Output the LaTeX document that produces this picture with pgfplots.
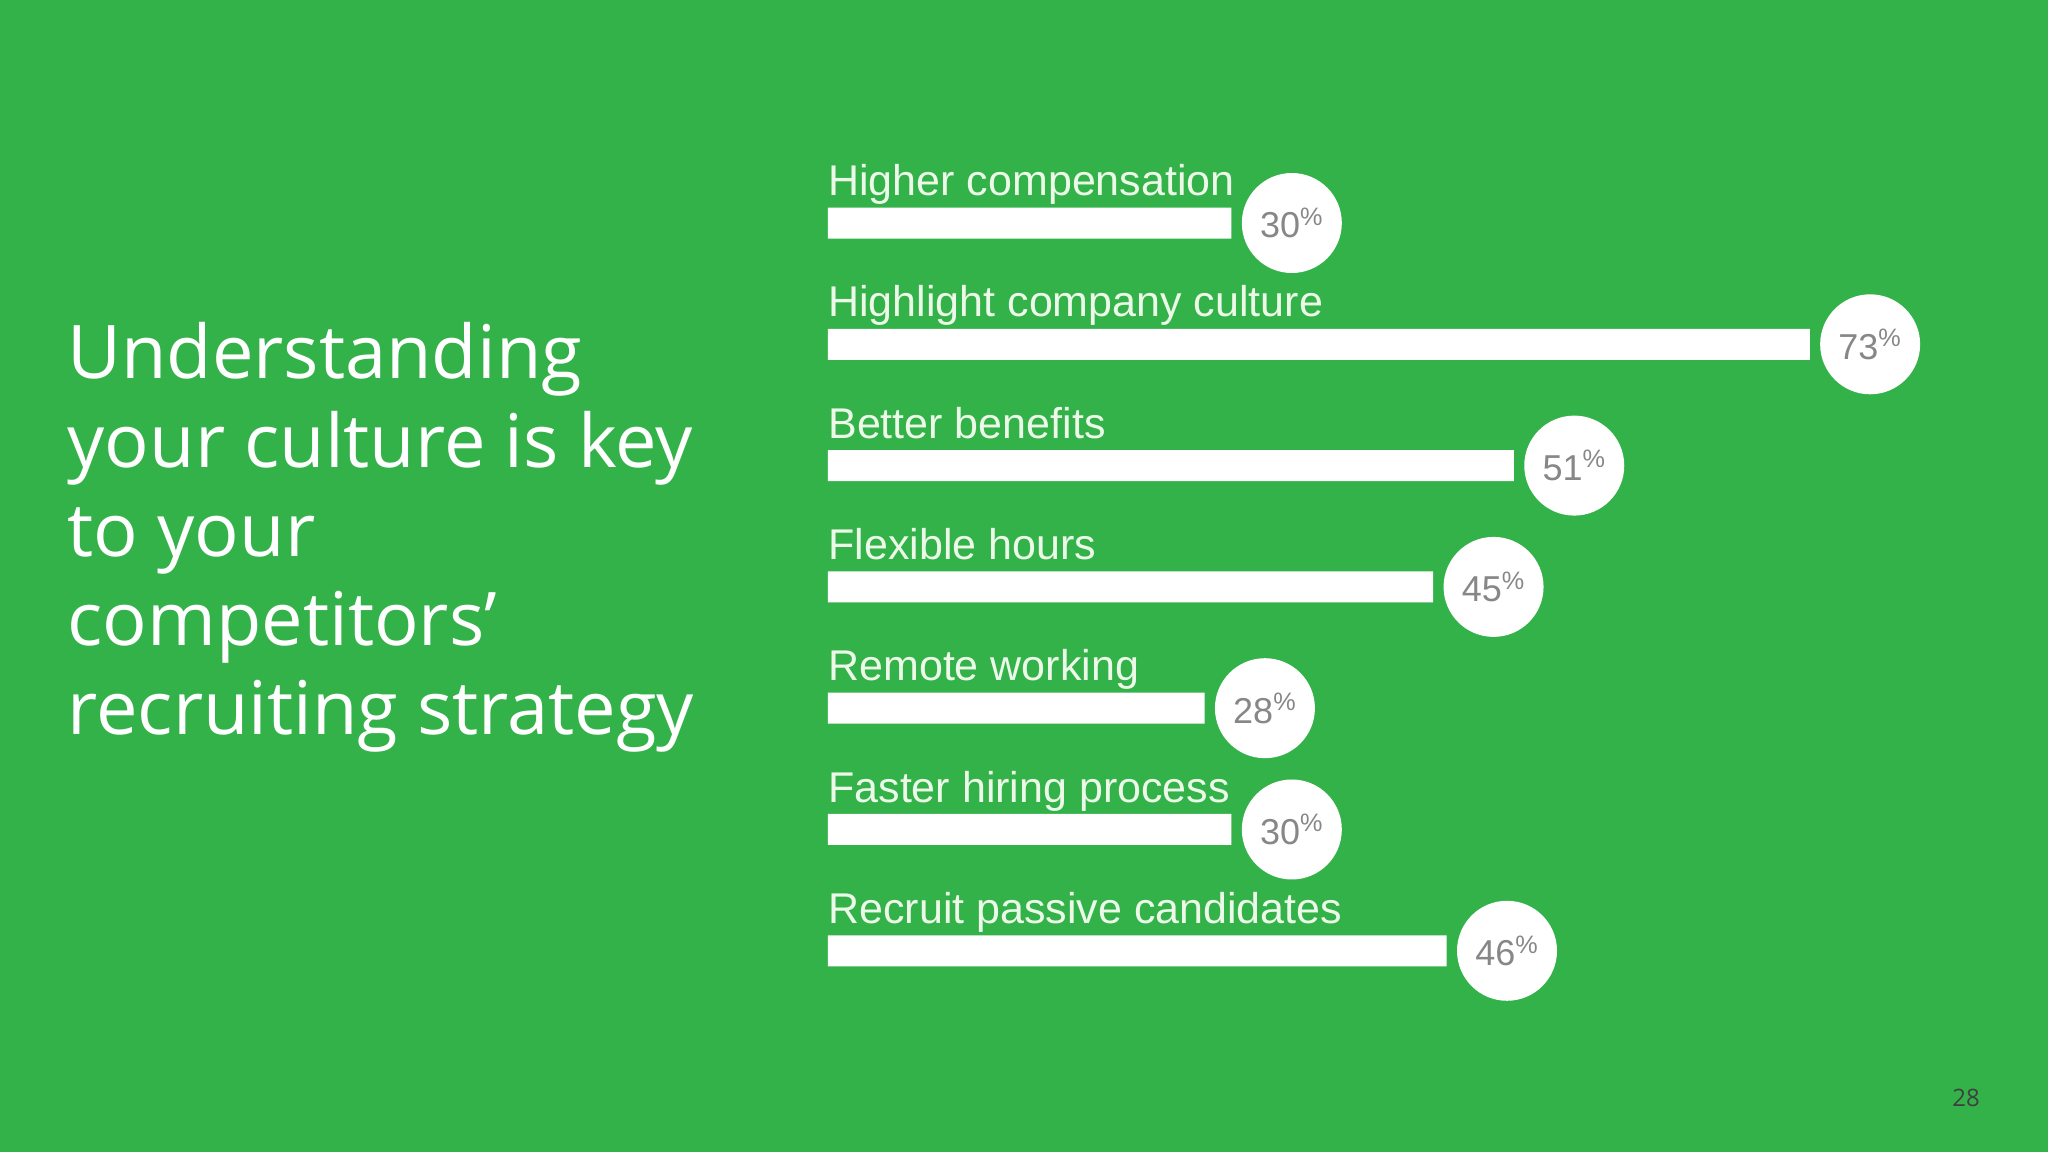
\documentclass[border=0pt]{standalone}
\usepackage{pgfplots}
\pgfplotsset{compat=1.18}
\usepackage{pgfplotstable}
\usepackage{fontspec}
\setmainfont{Open Sans}
\newfontfamily\barfont{Liberation Sans}
\definecolor{bg}{RGB}{51,178,73}
\definecolor{lbl}{RGB}{236,249,232}
\definecolor{pct}{RGB}{135,135,135}
\pgfplotstableread[col sep=comma]{
y,x,label
0,30,Higher compensation
1,73,Highlight company culture
2,51,Better benefits
3,45,Flexible hours
4,28,Remote working
5,30,Faster hiring process
6,46,Recruit passive candidates
}\data
\begin{document}
\begin{tikzpicture}
\fill[bg] (0,0) rectangle (1024pt,576pt);
\begin{axis}[at={(0,0)}, anchor=south west, scale only axis,
  width=1024pt, height=576pt, hide axis, clip=false,
  xmin=-61.56, xmax=90.70, ymin=-1.8384, ymax=7.6590, y dir=reverse,
  /pgf/number format/assume math mode=true]
\addplot[xbar, fill=white, draw=none, bar width=15.5pt, bar shift=0pt,
  point meta=x,
  nodes near coords={\pgfmathprintnumber{\pgfplotspointmeta}\textsuperscript{\%}},
  every node near coord/.style={circle, fill=white, inner sep=0pt,
    minimum size=50pt, anchor=west, xshift=5pt, text=pct,
    font=\barfont\fontsize{18}{20}\selectfont}]
  table[x=x, y=y] {\data};
\addplot[draw=none, mark=none, point meta=explicit symbolic,
  nodes near coords,
  every node near coord/.style={anchor=base west, yshift=13.7pt,
    inner sep=0pt, text=lbl, font=\barfont\fontsize{21.5}{24}\selectfont}]
  table[x expr=0, y=y, meta=label] {\data};
\end{axis}
\begin{scope}[every node/.style={anchor=base west, inner sep=0pt, text=white,
    font=\fontsize{37}{44}\selectfont}]
\node at (33.6pt,386.6pt) {Understanding};
\node at (33.6pt,342.2pt) {your culture is key};
\node at (33.6pt,297.8pt) {to your};
\node at (33.6pt,253.4pt) {competitors’};
\node at (33.6pt,209pt) {recruiting strategy};
\end{scope}
\node[anchor=base, inner sep=0pt, text=black!75, font=\fontsize{12}{14}\selectfont] at (983pt,23pt) {28};
\end{tikzpicture}
\end{document}
